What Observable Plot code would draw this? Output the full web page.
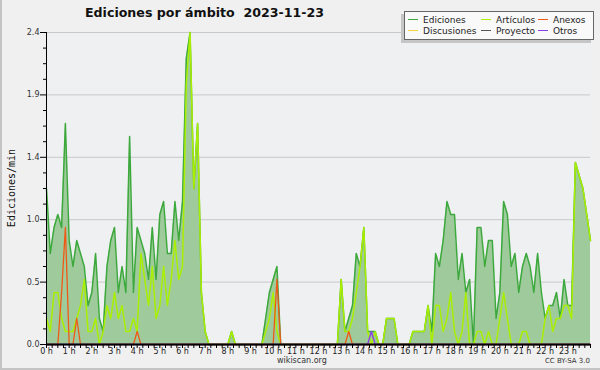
<!DOCTYPE html>
<html>
<head>
<meta charset="utf-8">
<script src="https://cdn.jsdelivr.net/npm/d3@7"></script>
<script src="https://cdn.jsdelivr.net/npm/@observablehq/plot@0.6"></script>
<style>
  body { margin: 0; background: #f0f0f0; }
  #wrap { position: relative; width: 600px; height: 370px; background: #f0f0f0; overflow: hidden; font-family: "DejaVu Sans", sans-serif; }
  #wrap svg { position: absolute; left: 0; top: 0; }
  .title { position: absolute; left: 85px; top: 5px; font-weight: bold; font-size: 12.6px; white-space: pre; color: #111; }
  .ylab { position: absolute; left: 11px; top: 188px; font-family: "DejaVu Sans Mono", monospace; font-size: 10px; color: #111; transform: translate(-50%, -50%) rotate(-90deg); white-space: nowrap; }
  .legend { position: absolute; left: 404px; top: 11px; width: 188px; height: 27px; background: #f9f9f9; border: 1px solid #666; box-shadow: -3px 3px 0 #c6c6c6; font-size: 9px; color: #222; }
  .item { position: absolute; white-space: nowrap; line-height: 10px; }
  .sw { display: inline-block; width: 10px; height: 0; border-top: 1px solid; vertical-align: middle; margin-right: 5px; position: relative; top: -1px; }
  .foot { position: absolute; font-size: 8px; color: #333; white-space: nowrap; }
  .edgeL { position: absolute; left: 0; top: 0; width: 2px; height: 370px; background: #c4c4c4; }
  .edgeB { position: absolute; left: 0; bottom: 0; width: 600px; height: 2px; background: #c4c4c4; }
</style>
</head>
<body>
<div id="wrap"></div>
<script>
// 10-minute samples from 00:00 to 24:00 (edits per minute)
const ediciones = [
  1.2, 0.7, 0.9, 1.0, 0.9, 1.7,
  0.8, 0.6, 0.8, 0.7, 0.6, 0.3,
  0.4, 0.7, 0.2, 0.1, 0.6, 0.8,
  0.9, 0.4, 0.6, 0.4, 1.6, 0.4,
  0.9, 0.8, 0.7, 0.5, 0.9, 0.5,
  1.0, 1.1, 0.7, 0.7, 1.1, 0.8,
  1.1, 2.2, 2.4, 1.2, 1.7, 0.4,
  0.1, 0, 0, 0, 0, 0,
  0, 0.1, 0, 0, 0, 0,
  0, 0, 0, 0, 0.2, 0.4,
  0.5, 0.6, 0, 0, 0, 0,
  0, 0, 0, 0, 0, 0,
  0, 0, 0, 0, 0, 0,
  0.5, 0.1, 0.2, 0.3, 0.7, 0.6,
  0.9, 0.1, 0.1, 0.1, 0, 0,
  0.2, 0.2, 0.2, 0, 0, 0,
  0, 0.1, 0.1, 0.1, 0.1, 0.3,
  0.1, 0.7, 0.6, 0.8, 1.1, 1.0,
  1.0, 0.5, 0.7, 0.4, 0.5, 0,
  0.9, 0.9, 0.6, 0.8, 0.8, 0.2,
  0.4, 1.1, 1.0, 0.6, 0.7, 0.4,
  0.6, 0.7, 0.6, 0.4, 0.7, 0.4,
  0.2, 0.3, 0.3, 0.4, 0.2, 0.5,
  0.3, 0.3, 1.4, 1.3, 1.2, 1.0,
  0.8
];
const articulos = [
  0.2, 0.1, 0.4, 0.4, 0.2, 0.1,
  0.1, 0.1, 0.2, 0.3, 0.5, 0.1,
  0.1, 0.2, 0, 0.1, 0.3, 0.2,
  0.4, 0.2, 0.3, 0.1, 0.1, 0.2,
  0.1, 0.7, 0.5, 0.3, 0.6, 0.2,
  0.3, 0.6, 0.3, 0.5, 0.8, 0.5,
  0.6, 2.0, 2.4, 1.2, 1.7, 0.4,
  0.1, 0, 0, 0, 0, 0,
  0, 0.1, 0, 0, 0, 0,
  0, 0, 0, 0, 0.1, 0.2,
  0.4, 0.1, 0, 0, 0, 0,
  0, 0, 0, 0, 0, 0,
  0, 0, 0, 0, 0, 0,
  0.5, 0.1, 0.1, 0.2, 0.4, 0.6,
  0.9, 0.1, 0, 0.1, 0, 0,
  0.2, 0.2, 0.2, 0, 0, 0,
  0, 0.1, 0.1, 0.1, 0.1, 0.3,
  0, 0.3, 0.3, 0.1, 0.2, 0.4,
  0.1, 0, 0.1, 0.4, 0, 0,
  0.1, 0.1, 0, 0.1, 0, 0,
  0.2, 0.4, 0.2, 0, 0, 0,
  0.1, 0.1, 0, 0, 0, 0,
  0.2, 0.3, 0.1, 0.2, 0.2, 0.3,
  0.3, 0.2, 1.4, 1.3, 1.2, 1.0,
  0.8
];
// sparse series: [sample index, value]; all other samples are 0
const anexos = [[4, 0.4], [5, 0.9], [8, 0.2], [24, 0.1], [61, 0.5], [80, 0.1]];
const discusiones = [];
const proyecto = [];
const otros = [[86, 0.1]];

const yMajor = [0, 0.48, 0.96, 1.44, 1.92, 2.4];
const yMinor = [0.12, 0.24, 0.36, 0.6, 0.72, 0.84, 1.08, 1.2, 1.32, 1.56, 1.68, 1.8, 2.04, 2.16, 2.28];
const hourLabels = d3.range(0, 24);
const quarterTicks = d3.range(0, 24.001, 0.25);

const dense = sparse => { const a = ediciones.map(() => 0); for (const [i, v] of sparse) a[i] = v; return a; };
const rowsOf = vals => vals.map((v, i) => ({t: i / 6, v}));

const series = [
  {name: "Ediciones", color: "#3da93d", values: ediciones, w: 1.5},
  {name: "Artículos", color: "#aaee00", values: articulos, w: 1.5},
  {name: "Anexos", color: "#ee5a16", values: dense(anexos), w: 1.3},
  {name: "Discusiones", color: "#f5d43c", values: dense(discusiones), w: 1},
  {name: "Proyecto", color: "#555555", values: dense(proyecto), w: 1},
  {name: "Otros", color: "#8a3ee8", values: dense(otros), w: 1.3}
];

const chart = Plot.plot({
  width: 600, height: 370,
  marginLeft: 46, marginRight: 10, marginTop: 32, marginBottom: 26,
  x: {domain: [0, 24]},
  y: {domain: [0, 2.4]},
  style: {background: "transparent", fontFamily: "DejaVu Sans", fontSize: "8px", color: "#333"},
  marks: [
    Plot.frame({fill: "#eef0f2", stroke: null}),
    Plot.gridY(yMajor.slice(1), {stroke: "#c9c9c9", strokeOpacity: 1, strokeWidth: 1}),
    Plot.areaY(rowsOf(ediciones), {x: "t", y: "v", fill: "#9fcb9c", fillOpacity: 1}),
    ...series.map(s => Plot.lineY(rowsOf(s.values), {x: "t", y: "v", stroke: s.color, strokeWidth: s.w})),
    Plot.axisY(yMajor, {tickSize: 6, tickPadding: 1, tickFormat: d => d.toFixed(1), label: null, stroke: "#000", fill: "#333"}),
    Plot.axisY(yMinor, {tickSize: 3, tickFormat: () => "", label: null, stroke: "#000"}),
    Plot.axisX(quarterTicks, {tickSize: 4, tickFormat: () => "", label: null, stroke: "#000"}),
    Plot.axisX(hourLabels, {tickSize: 0, tickPadding: 4, tickFormat: d => d + " h", label: null, fill: "#222"}),
    Plot.ruleY([0], {stroke: "#000", strokeWidth: 2}),
    Plot.ruleX([0], {stroke: "#000", strokeWidth: 1})
  ]
});

const wrap = document.getElementById("wrap");
wrap.appendChild(chart);

const add = (cls, text, css) => { const d = document.createElement("div"); d.className = cls; d.textContent = text; Object.assign(d.style, css || {}); wrap.appendChild(d); return d; };
add("title", "Ediciones por ámbito  2023-11-23");
add("ylab", "Ediciones/min");
add("foot", "wikiscan.org", {left: "277px", top: "356px"});
add("foot", "CC BY-SA 3.0", {right: "10px", top: "357px", fontSize: "7px"});
add("edgeL", "");
add("edgeB", "");

const legend = document.createElement("div");
legend.className = "legend";
wrap.appendChild(legend);
const legendPos = [[3, 3], [76, 3], [133, 3], [3, 14], [76, 14], [133, 14]];
series.forEach((s, k) => {
  const it = document.createElement("div");
  it.className = "item";
  it.style.left = legendPos[k][0] + "px";
  it.style.top = legendPos[k][1] + "px";
  const sw = document.createElement("span");
  sw.className = "sw";
  sw.style.borderTopColor = s.color;
  it.appendChild(sw);
  it.appendChild(document.createTextNode(s.name));
  legend.appendChild(it);
});
</script>
</body>
</html>
